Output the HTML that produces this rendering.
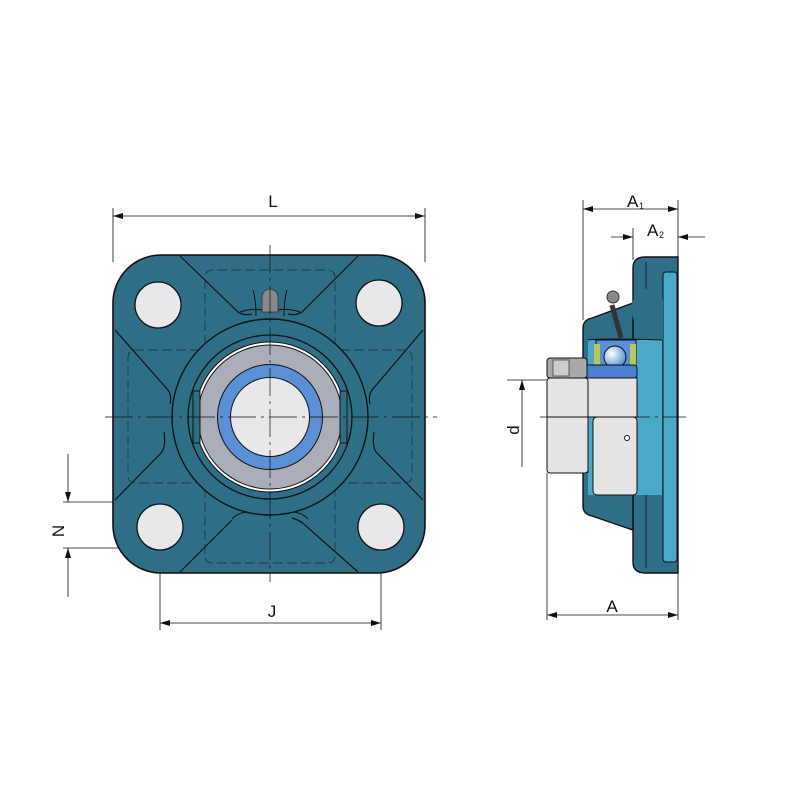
<!DOCTYPE html>
<html><head><meta charset="utf-8"><style>
html,body{margin:0;padding:0;background:#fff;}
svg{display:block;}
text{font-family:"Liberation Sans",sans-serif;fill:#111;}
</style></head><body>
<svg width="800" height="800" viewBox="0 0 800 800" xmlns="http://www.w3.org/2000/svg">
<defs>
<marker id="ar" viewBox="0 0 10 6" refX="10" refY="3" markerWidth="10" markerHeight="6" orient="auto-start-reverse" markerUnits="userSpaceOnUse"><path d="M0,0 L10,3 L0,6 z" fill="#111"/></marker>
<radialGradient id="ball" cx="0.35" cy="0.35" r="0.7"><stop offset="0" stop-color="#fff"/><stop offset="1" stop-color="#4f8fd0"/></radialGradient>
</defs>

<!-- ===== FRONT VIEW ===== -->
<g stroke="#111" stroke-width="0.8" fill="none">
<line x1="113" y1="208" x2="113" y2="262"/>
<line x1="425" y1="208" x2="425" y2="262"/>
<line x1="113" y1="216" x2="425" y2="216" marker-start="url(#ar)" marker-end="url(#ar)"/>
<line x1="160" y1="525" x2="160" y2="630"/>
<line x1="381" y1="525" x2="381" y2="630"/>
<line x1="160" y1="623" x2="381" y2="623" marker-start="url(#ar)" marker-end="url(#ar)"/>
<line x1="63" y1="502" x2="160" y2="502"/>
<line x1="63" y1="548" x2="160" y2="548"/>
<line x1="68" y1="454" x2="68" y2="502" marker-end="url(#ar)"/>
<line x1="68" y1="597" x2="68" y2="548" marker-end="url(#ar)"/>
</g>
<text x="273" y="207" font-size="17" text-anchor="middle">L</text>
<text x="272" y="617" font-size="17" text-anchor="middle">J</text>
<text x="0" y="0" font-size="17" text-anchor="middle" transform="translate(64,531) rotate(-90)">N</text>

<rect x="113" y="255" width="312" height="318" rx="48" fill="#2e6f87" stroke="#111" stroke-width="1.6"/>
<!-- ear outlines -->
<g stroke="#111" stroke-width="1.2" fill="none">
<path d="M180,256 L238,312 Q244,316 252,314"/>
<path d="M115,330 L168,390 Q172,396 170,404"/>
<path d="M358,256 L302,312 Q296,316 288,314"/>
<path d="M423,330 L372,390 Q368,396 370,404"/>
<path d="M115,500 L162,452 Q166,446 164,432"/>
<path d="M180,572 L218,534 Q224,528 232,520"/>
<path d="M423,500 L376,452 Q372,446 374,432"/>
<path d="M358,572 L306,526 Q300,520 292,518"/>
</g>
<g stroke="#1a2a33" stroke-width="0.7" fill="none" stroke-dasharray="10,4">
<path d="M205,345 L205,278 Q205,270 213,270 L327,270 Q335,270 335,278 L335,345"/>
<path d="M205,488 L205,556 Q205,563 213,563 L327,563 Q335,563 335,556 L335,488"/>
<path d="M200,350 L136,350 Q128,350 128,358 L128,475 Q128,483 136,483 L200,483"/>
<path d="M340,350 L404,350 Q412,350 412,358 L412,475 Q412,483 404,483 L340,483"/>
</g>
<g fill="#e8e8ea" stroke="#111" stroke-width="1.3">
<circle cx="158" cy="305" r="23"/>
<circle cx="379" cy="303" r="23"/>
<circle cx="160" cy="527" r="23"/>
<circle cx="381" cy="527" r="23"/>
</g>
<!-- grease nipple -->
<path d="M262,312 L262,298 Q262,290 270,289 Q278,290 278,298 L278,312 z" fill="#888" stroke="#333" stroke-width="0.8"/>
<g stroke="#111" stroke-width="1" fill="none">
<path d="M253,290 Q256,300 256,316"/>
<path d="M287,290 Q284,300 284,316"/>
<path d="M240,312 Q252,308 262,310"/>
<path d="M300,312 Q288,308 278,310"/>
<path d="M232,519 Q240,510 258,512 Q270,514 282,512 Q300,510 308,519"/>
</g>
<circle cx="270" cy="417" r="98" fill="#2e6f87" stroke="#111" stroke-width="1.4"/>
<circle cx="270" cy="417" r="82" fill="#2e6f87" stroke="#111" stroke-width="1.3"/>
<circle cx="270" cy="417" r="75" fill="#fff" stroke="#111" stroke-width="1"/>
<circle cx="270" cy="417" r="72" fill="#a9aeb8" stroke="#111" stroke-width="1"/>
<g stroke="#111" stroke-width="1" fill="#2e6f87">
<path d="M193,391 L200,391 L200,443 L193,443 Z"/>
<path d="M347,391 L340,391 L340,443 L347,443 Z"/>
</g>
<circle cx="270" cy="417" r="46" fill="none" stroke="#5b8fd6" stroke-width="13"/>
<circle cx="270" cy="417" r="52.5" fill="none" stroke="#111" stroke-width="1"/>
<circle cx="270" cy="417" r="39.5" fill="#e8e8ea" stroke="#111" stroke-width="1"/>
<g stroke="#111" stroke-width="0.7" stroke-dasharray="28,5,3,5">
<line x1="105" y1="417" x2="437" y2="417"/>
<line x1="270" y1="245" x2="270" y2="582"/>
</g>

<!-- ===== SIDE VIEW ===== -->
<g stroke="#111" stroke-width="0.8" fill="none">
<line x1="583" y1="200" x2="583" y2="320"/>
<line x1="678" y1="200" x2="678" y2="260"/>
<line x1="633" y1="228" x2="633" y2="260"/>
<line x1="547" y1="473" x2="547" y2="620"/>
<line x1="678" y1="573" x2="678" y2="620"/>
<line x1="583" y1="209" x2="678" y2="209" marker-start="url(#ar)" marker-end="url(#ar)"/>
<line x1="611" y1="237" x2="633" y2="237" marker-end="url(#ar)"/>
<line x1="705" y1="237" x2="678" y2="237" marker-end="url(#ar)"/>
<line x1="547" y1="615" x2="678" y2="615" marker-start="url(#ar)" marker-end="url(#ar)"/>
<line x1="507" y1="380" x2="548" y2="380"/>
<line x1="522" y1="467" x2="522" y2="380" marker-end="url(#ar)"/>
</g>
<text x="627" y="207" font-size="17">A</text><text x="639" y="209" font-size="9">1</text>
<text x="647" y="236" font-size="17">A</text><text x="659" y="238" font-size="9">2</text>
<text x="612" y="612" font-size="17" text-anchor="middle">A</text>
<text x="0" y="0" font-size="17" text-anchor="middle" transform="translate(519,430) rotate(-90)">d</text>

<!-- flange -->
<path d="M633,268 Q633,257 645,257 L678,257 L678,573 L645,573 Q633,573 633,562 Z" fill="#2e6f87" stroke="#111" stroke-width="1.4"/>
<rect x="663" y="272" width="14" height="290" rx="3" fill="#4aa8c8" stroke="#111" stroke-width="1"/>
<line x1="646" y1="262" x2="646" y2="568" stroke="#111" stroke-width="0.8"/>
<!-- housing body -->
<path d="M583,328 Q583,320 592,318 L633,303 L633,530 L592,516 Q583,514 583,506 Z" fill="#2e6f87" stroke="#111" stroke-width="1.4"/>
<path d="M588,340 L662,340 L662,495 L588,495 Z" fill="#4aa8c8"/>
<path d="M630,308 L640,285 L663,300 L663,340 L640,340 Z" fill="#2e6f87"/>
<path d="M588,340 Q600,338 662,340" stroke="#111" fill="none"/>
<!-- grease nipple -->
<path d="M612,305 L621,338" stroke="#333" stroke-width="5" fill="none"/>
<circle cx="613" cy="297" r="6" fill="#888" stroke="#333"/>
<!-- bearing -->
<rect x="596" y="340" width="40" height="28" fill="#5b8fd6" stroke="#111"/>
<rect x="594" y="344" width="6" height="22" fill="#b5c85a"/>
<rect x="630" y="344" width="6" height="22" fill="#b5c85a"/>
<circle cx="615" cy="357" r="11" fill="url(#ball)" stroke="#111"/>
<rect x="578" y="365" width="59" height="13" rx="3" fill="#4c7fd0" stroke="#111"/>
<!-- shaft / inner ring -->
<rect x="578" y="378" width="59" height="39" fill="#e4e4e2" stroke="#111"/>
<rect x="593" y="417" width="44" height="78" rx="4" fill="#e4e4e2" stroke="#111"/>
<circle cx="627" cy="438" r="2.5" fill="#fff" stroke="#111"/>
<!-- collar -->
<rect x="547" y="358" width="40" height="20" rx="3" fill="#a9aaa8" stroke="#111"/>
<rect x="553" y="360" width="16" height="16" fill="#ccc" stroke="#333" stroke-width="0.7"/>
<rect x="547" y="378" width="41" height="95" rx="3" fill="#e4e4e2" stroke="#111"/>
<line x1="547" y1="417" x2="588" y2="417" stroke="#111"/>
<line x1="588" y1="417" x2="588" y2="473" stroke="#111"/>
<g stroke="#111" stroke-width="0.7" stroke-dasharray="28,5,3,5">
<line x1="540" y1="417" x2="686" y2="417"/>
</g>
</svg>
</body></html>
